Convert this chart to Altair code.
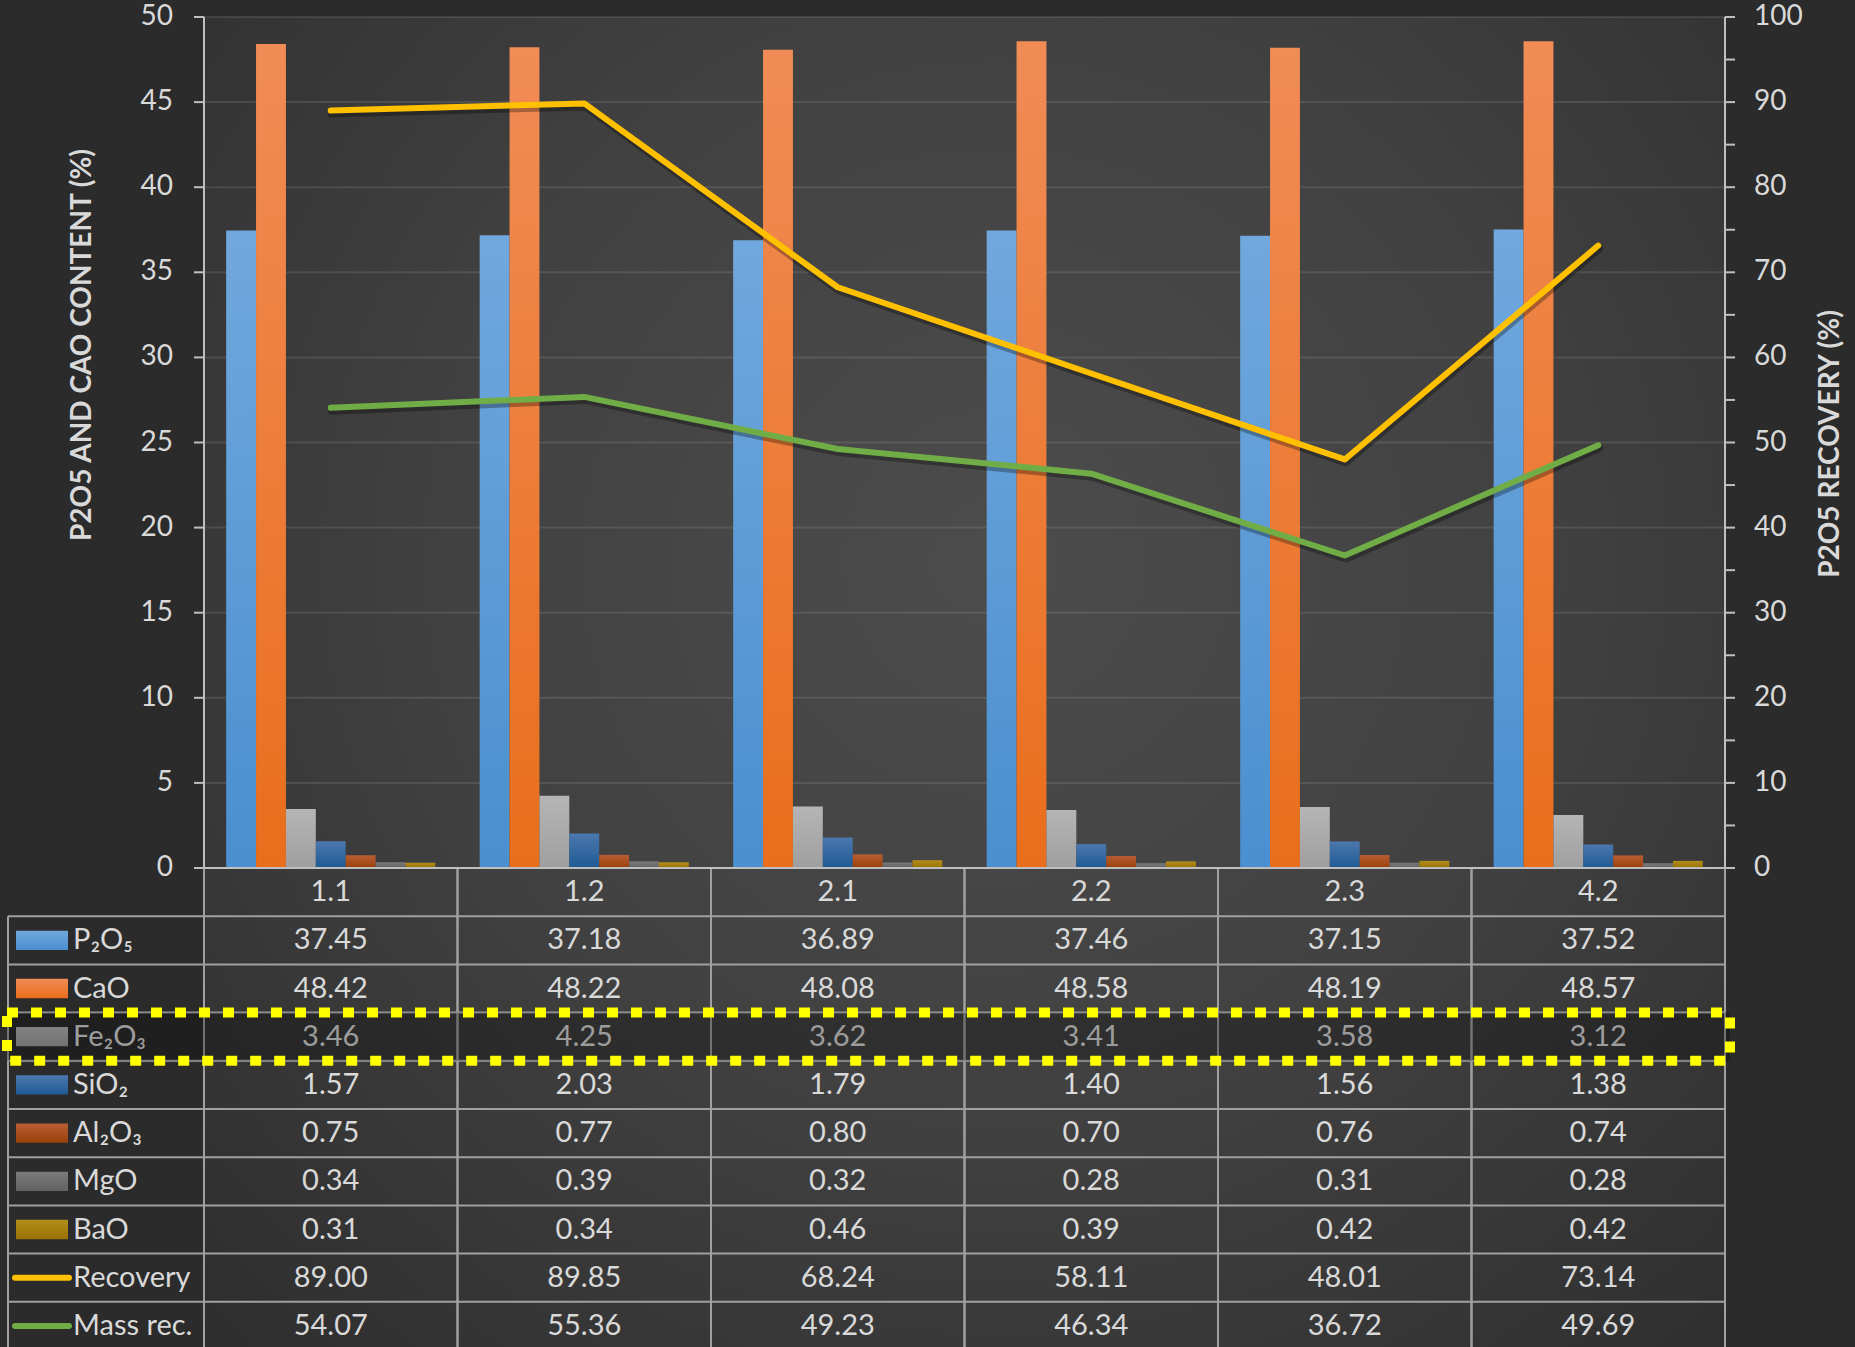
import altair as alt
import pandas as pd

# ---------------- data ----------------
cats = ["1.1", "1.2", "2.1", "2.2", "2.3", "4.2"]
oxides = ["P2O5", "CaO", "Fe2O3", "SiO2", "Al2O3", "MgO", "BaO"]
oxide_labels = ["P₂O₅", "CaO", "Fe₂O₃", "SiO₂", "Al₂O₃", "MgO", "BaO"]
p2o5 = [37.45, 37.18, 36.89, 37.46, 37.15, 37.52]
cao = [48.42, 48.22, 48.08, 48.58, 48.19, 48.57]
fe2o3 = [3.46, 4.25, 3.62, 3.41, 3.58, 3.12]
sio2 = [1.57, 2.03, 1.79, 1.40, 1.56, 1.38]
al2o3 = [0.75, 0.77, 0.80, 0.70, 0.76, 0.74]
mgo = [0.34, 0.39, 0.32, 0.28, 0.31, 0.28]
bao = [0.31, 0.34, 0.46, 0.39, 0.42, 0.42]
recovery = [89.00, 89.85, 68.24, 58.11, 48.01, 73.14]
mass_rec = [54.07, 55.36, 49.23, 46.34, 36.72, 49.69]
series = ["Recovery", "Mass rec."]
highlight_row = "Fe2O3"
left_ticks = [0, 5, 10, 15, 20, 25, 30, 35, 40, 45, 50]
right_ticks = [0, 5, 10, 15, 20, 25, 30, 35, 40, 45, 50, 55, 60, 65, 70, 75, 80, 85, 90, 95, 100]
right_labels = [0, 10, 20, 30, 40, 50, 60, 70, 80, 90, 100]
left_title = "P2O5 AND CAO CONTENT (%)"
right_title = "P2O5 RECOVERY (%)"

oxide_values = dict(zip(oxides, [p2o5, cao, fe2o3, sio2, al2o3, mgo, bao]))
series_values = dict(zip(series, [recovery, mass_rec]))

# ---------------- styles ----------------
FONT = "Lato"
TXT = "#d9d9d9"
AX = "#bfbfbf"
GRIDC = "#a0a0a0"
W, H = 1521, 1330
PLOT_H = 851
ROW_H = 48.2
FS = 29
AFS = 28

oxide_grad = {
    "P2O5": ("#71a8dd", "#4a8fd0"),
    "CaO": ("#f18c56", "#e96e1c"),
    "Fe2O3": ("#b5b5b5", "#9f9f9f"),
    "SiO2": ("#4c78ae", "#1f5a94"),
    "Al2O3": ("#b95e35", "#9a4008"),
    "MgO": ("#7b7b7b", "#626262"),
    "BaO": ("#b48d1c", "#987200"),
}
series_colors = ["#ffc000", "#70ad47"]


def lin_grad(top, bottom):
    return {"gradient": "linear", "x1": 0, "y1": 0, "x2": 0, "y2": 1,
            "stops": [{"offset": 0, "color": top}, {"offset": 1, "color": bottom}]}


X_SCALE = alt.Scale(domain=cats, paddingInner=0, paddingOuter=0)


def xenc(**kw):
    return alt.X("cat:N", scale=X_SCALE, axis=None, **kw)


Y_BAR = alt.Scale(domain=[0, 50], range=[PLOT_H, 0], nice=False)
Y_LINE = alt.Scale(domain=[0, 100], range=[PLOT_H, 0], nice=False)
Y_T = alt.Scale(domain=[0, 10], range=[PLOT_H, PLOT_H + 10 * ROW_H], nice=False, zero=False)


def yb(field):
    return alt.Y(field, scale=Y_BAR, axis=None)


def yl(field):
    return alt.Y(field, scale=Y_LINE, axis=None)


def ty(field):
    return alt.Y(field, scale=Y_T, axis=None)


# ---------------- data frames ----------------
bar_df = pd.DataFrame([{"cat": c, "oxide": o, "value": v}
                       for o in oxides for c, v in zip(cats, oxide_values[o])])
line_df = pd.DataFrame([{"cat": c, "series": s, "value": v}
                        for s in series for c, v in zip(cats, series_values[s])])
lt_df = pd.DataFrame({"t": left_ticks})
grid_df = pd.DataFrame({"t": left_ticks[1:]})
rt_df = pd.DataFrame({"t": right_ticks})
rl_df = pd.DataFrame({"t": right_labels})
ldom_df = pd.DataFrame({"a": [left_ticks[0]], "b": [left_ticks[-1]]})
rdom_df = pd.DataFrame({"a": [right_ticks[0]], "b": [right_ticks[-1]]})

row_names = oxides + series
row_labels = oxide_labels + series
row_index = {n: i + 1 for i, n in enumerate(row_names)}

cell_df = pd.DataFrame(
    [{"cat": c, "mid": row_index[o] + 0.5, "value": v} for o in oxides for c, v in zip(cats, oxide_values[o])]
    + [{"cat": c, "mid": row_index[s] + 0.5, "value": v} for s in series for c, v in zip(cats, series_values[s])]
)
cat_df = pd.DataFrame({"cat": cats, "mid": [0.5] * len(cats)})
label_df = pd.DataFrame({"label": row_labels, "mid": [row_index[n] + 0.5 for n in row_names]})
hline_df = pd.DataFrame({"k": list(range(1, 11))})
base_df = pd.DataFrame({"k": [0]})
vline_df = pd.DataFrame({"cat": cats, "y0": [0] * len(cats), "y1": [10] * len(cats)})
lborder_df = pd.DataFrame({"y0": [1], "y1": [10]})
hl_df = pd.DataFrame({"y0": [row_index[highlight_row]], "y1": [row_index[highlight_row] + 1]})
ltitle_df = pd.DataFrame({"title": [left_title]})
rtitle_df = pd.DataFrame({"title": [right_title]})

# ---------------- bars + left axis ----------------
gridlines = alt.Chart(grid_df).mark_rule(color="#ffffff", opacity=0.1, strokeWidth=2).encode(
    x=alt.value(0), x2=alt.value(W), y=yb("t:Q"))

XOFF = alt.XOffset("oxide:N", scale=alt.Scale(domain=oxides, paddingInner=0, paddingOuter=0.742))
bar_layers = []
for o in oxides:
    top, bot = oxide_grad[o]
    bar_layers.append(
        alt.Chart(bar_df).transform_filter(alt.datum.oxide == o)
        .mark_bar(color=lin_grad(top, bot))
        .encode(x=xenc(), xOffset=XOFF, y=yb("value:Q"))
    )

l_domain = alt.Chart(ldom_df).mark_rule(color=AX, strokeWidth=2).encode(
    x=alt.value(0), y=yb("a:Q"), y2="b:Q")
l_ticks = alt.Chart(lt_df).mark_rule(color=AX, strokeWidth=2).encode(
    x=alt.value(-10), x2=alt.value(0), y=yb("t:Q"))
l_labels = alt.Chart(lt_df).mark_text(font=FONT, fontSize=AFS, color=TXT, align="right",
                                      baseline="middle").encode(
    x=alt.value(-31), y=yb("t:Q"), text="t:Q")

bars = alt.layer(gridlines, *bar_layers, l_domain, l_ticks, l_labels)

# ---------------- lines + right axis ----------------
line_shadow = alt.Chart(line_df).mark_line(
    color="#000000", opacity=0.3, strokeWidth=8, strokeCap="round", strokeJoin="round", yOffset=3, xOffset=1
).encode(x=xenc(), y=yl("value:Q"), detail="series:N")
line_main = alt.Chart(line_df).mark_line(
    strokeWidth=6, strokeCap="round", strokeJoin="round"
).encode(
    x=xenc(), y=yl("value:Q"),
    color=alt.Color("series:N", scale=alt.Scale(domain=series, range=series_colors), legend=None),
)
r_domain = alt.Chart(rdom_df).mark_rule(color=AX, strokeWidth=2).encode(
    x=alt.value(W), y=yl("a:Q"), y2="b:Q")
r_ticks = alt.Chart(rt_df).mark_rule(color=AX, strokeWidth=2).encode(
    x=alt.value(W), x2=alt.value(W + 10), y=yl("t:Q"))
r_labels = alt.Chart(rl_df).mark_text(font=FONT, fontSize=AFS, color=TXT, align="left",
                                      baseline="middle").encode(
    x=alt.value(W + 29), y=yl("t:Q"), text="t:Q")

lines = alt.layer(line_shadow, line_main, r_domain, r_ticks, r_labels)

# ---------------- table ----------------
hlines = alt.Chart(hline_df).mark_rule(color=GRIDC, strokeWidth=2).encode(
    x=alt.value(-196), x2=alt.value(W), y=ty("k:Q"))
baseline = alt.Chart(base_df).mark_rule(color=AX, strokeWidth=2).encode(
    x=alt.value(0), x2=alt.value(W), y=ty("k:Q"))
vlines = alt.Chart(vline_df).mark_rule(color=GRIDC, strokeWidth=2).encode(
    x=xenc(bandPosition=0), y=ty("y0:Q"), y2="y1:Q")
vlines_r = alt.Chart(vline_df).mark_rule(color=GRIDC, strokeWidth=2).encode(
    x=xenc(bandPosition=1), y=ty("y0:Q"), y2="y1:Q")
lborder = alt.Chart(lborder_df).mark_rule(color=GRIDC, strokeWidth=2).encode(
    x=alt.value(-196), y=ty("y0:Q"), y2="y1:Q")

cat_text = alt.Chart(cat_df).mark_text(font=FONT, fontSize=FS, color=TXT, baseline="middle").encode(
    x=xenc(), y=ty("mid:Q"), text="cat:N")
cell_text = alt.Chart(cell_df).mark_text(font=FONT, fontSize=FS, color=TXT, baseline="middle").encode(
    x=xenc(), y=ty("mid:Q"), text=alt.Text("value:Q", format=".2f"))
label_text = alt.Chart(label_df).mark_text(font=FONT, fontSize=FS, color=TXT, baseline="middle",
                                           align="left").encode(
    x=alt.value(-131), y=ty("mid:Q"), text="label:N")

swatches = []
for o in oxides:
    top, bot = oxide_grad[o]
    sw_df = pd.DataFrame({"y0": [row_index[o] + 0.3], "y1": [row_index[o] + 0.7]})
    swatches.append(
        alt.Chart(sw_df).mark_rect(color=lin_grad(top, bot)).encode(
            x=alt.value(-188), x2=alt.value(-136), y=ty("y0:Q"), y2="y1:Q")
    )
line_sw_df = pd.DataFrame({"series": series, "mid": [row_index[s] + 0.5 for s in series]})
line_swatch = alt.Chart(line_sw_df).mark_rule(strokeWidth=6, strokeCap="round").encode(
    x=alt.value(-189), x2=alt.value(-135), y=ty("mid:Q"),
    color=alt.Color("series:N", scale=alt.Scale(domain=series, range=series_colors), legend=None))

hl_fill = alt.Chart(hl_df).mark_rect(color="#000000", opacity=0.28).encode(
    x=alt.value(-197), x2=alt.value(W + 5), y=ty("y0:Q"), y2="y1:Q")
hl_stroke = alt.Chart(hl_df).mark_rect(fillOpacity=0, stroke="#ffff00", strokeWidth=10,
                                       strokeDash=[11, 13]).encode(
    x=alt.value(-197), x2=alt.value(W + 5), y=ty("y0:Q"), y2="y1:Q")

l_title = alt.Chart(ltitle_df).mark_text(font=FONT, fontSize=28, fontWeight="bold", color=TXT,
                                         angle=270, align="center", baseline="middle").encode(
    x=alt.value(-121), y=alt.value(328), text="title:N")
r_title = alt.Chart(rtitle_df).mark_text(font=FONT, fontSize=28, fontWeight="bold", color=TXT,
                                         angle=270, align="center", baseline="middle").encode(
    x=alt.value(W + 106), y=alt.value(427), text="title:N")

table = alt.layer(hlines, vlines, vlines_r, lborder, cat_text, cell_text, label_text,
                  *swatches, line_swatch, hl_fill, baseline, hl_stroke, l_title, r_title)

view_fill = ("{gradient: 'radial', x1: 0.52, y1: 0.42, r1: 0, x2: 0.52, y2: 0.42, r2: 0.8, "
             "stops: [{offset: 0, color: '#4c4c4c'}, {offset: 0.45, color: '#414141'}, "
             "{offset: 1, color: '#2a2a2a'}]}")

chart = alt.layer(bars, lines, table).resolve_scale(y="independent", color="independent").properties(
    width=W, height=H,
    autosize=alt.AutoSizeParams(type="none"),
    padding={"left": 204, "top": 17, "right": 130, "bottom": 0},
    background="#2b2b2b",
).configure_view(strokeWidth=0, fill={"expr": view_fill})

chart.save("out.html", embed_options={"renderer": "svg", "actions": False})
